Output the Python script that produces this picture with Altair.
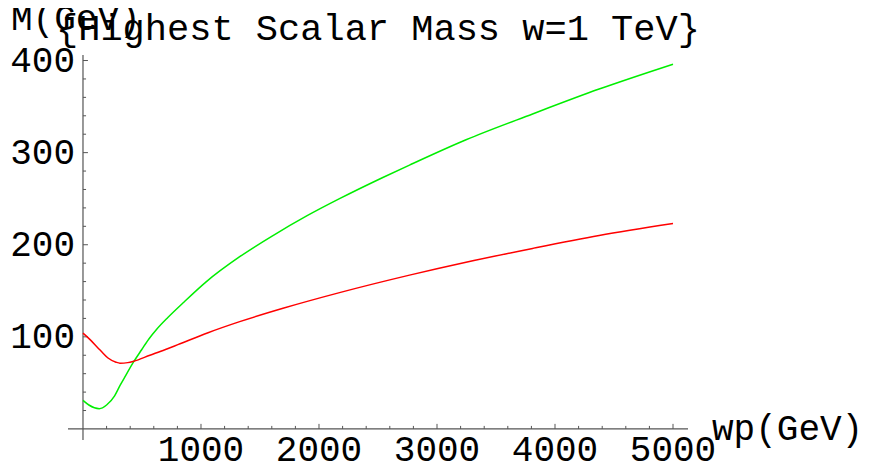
import altair as alt
import pandas as pd

# ---- data ----
green_wp = [0, 50, 138, 200, 268, 313, 353, 430, 497, 560, 623, 719, 849, 1046,
            1328, 1610, 1892, 2174, 2541, 2767, 3246, 3810, 4374, 5000]
green_m = [31, 26, 22, 26, 36, 47, 56, 73, 86, 98, 108, 121, 137, 160,
           187, 210, 231, 250, 273, 286.5, 314, 342, 369, 396]

red_wp = [0, 60, 127, 172, 212, 280, 313, 380, 430, 567, 694, 804, 1060,
          1328, 1695, 2174, 2767, 3246, 3810, 4374, 5000]
red_m = [104, 97, 88, 82, 77, 72.5, 71.4, 72, 73.5, 80, 86, 91.5, 104.5,
         116.5, 131, 148, 167, 181, 196, 210, 223]

x_major = [1000, 2000, 3000, 4000, 5000]
y_major = [100, 200, 300, 400]
x_minor = [v for v in range(200, 5001, 200) if v % 1000 != 0]
y_minor = [v for v in range(20, 401, 20) if v % 100 != 0]

title_text = "{Highest Scalar Mass w=1 TeV}"
y_title = "M(GeV)"
x_title = "wp(GeV)"

X_DOM = [-127, 5127]
Y_DOM = [-12, 406]
FONT = "Liberation Mono"
FS = 36
AX = "#555555"

xs = alt.Scale(domain=X_DOM, nice=False, zero=False)
ys = alt.Scale(domain=Y_DOM, nice=False, zero=False)

curves = pd.concat([
    pd.DataFrame({"wp": green_wp, "M": green_m, "s": "green"}),
    pd.DataFrame({"wp": red_wp, "M": red_m, "s": "red"}),
])

lines = alt.Chart(curves).mark_line(interpolate="monotone", strokeWidth=1.5).encode(
    x=alt.X("wp:Q", scale=xs, axis=None),
    y=alt.Y("M:Q", scale=ys, axis=None),
    color=alt.Color("s:N", scale=alt.Scale(domain=["green", "red"], range=["#00ee00", "#ff0000"]), legend=None),
    detail="s:N",
)

axes_df = pd.DataFrame({
    "x": [X_DOM[0], 0], "x2": [X_DOM[1], 0],
    "y": [0, Y_DOM[0]], "y2": [0, Y_DOM[1]],
})
axis_lines = alt.Chart(axes_df).mark_rule(color=AX, strokeWidth=1.2).encode(
    x=alt.X("x:Q", scale=xs, axis=None), x2="x2:Q",
    y=alt.Y("y:Q", scale=ys, axis=None), y2="y2:Q",
)

xt = pd.DataFrame({
    "x": x_major + x_minor,
    "y2": [5.5] * len(x_major) + [3.3] * len(x_minor),
})
xt["y"] = 0
x_ticks = alt.Chart(xt).mark_rule(color=AX, strokeWidth=1).encode(
    x=alt.X("x:Q", scale=xs, axis=None),
    y=alt.Y("y:Q", scale=ys, axis=None), y2="y2:Q",
)

yt = pd.DataFrame({
    "y": y_major + y_minor,
    "x2": [42] * len(y_major) + [26] * len(y_minor),
})
yt["x"] = 0
y_ticks = alt.Chart(yt).mark_rule(color=AX, strokeWidth=1).encode(
    y=alt.Y("y:Q", scale=ys, axis=None),
    x=alt.X("x:Q", scale=xs, axis=None), x2="x2:Q",
)

xl = pd.DataFrame({"x": x_major, "y": 0, "t": [str(v) for v in x_major]})
x_labels = alt.Chart(xl).mark_text(font=FONT, fontSize=FS, align="center",
                                   baseline="alphabetic", dy=32, color="black").encode(
    x=alt.X("x:Q", scale=xs, axis=None),
    y=alt.Y("y:Q", scale=ys, axis=None),
    text="t:N",
)

yl = pd.DataFrame({"y": y_major, "x": 0, "t": [str(v) for v in y_major]})
y_labels = alt.Chart(yl).mark_text(font=FONT, fontSize=FS, align="right",
                                   baseline="alphabetic", dx=-8, dy=11, color="black").encode(
    x=alt.X("x:Q", scale=xs, axis=None),
    y=alt.Y("y:Q", scale=ys, axis=None),
    text="t:N",
)

def label(txt, px, py, size=FS):
    return alt.Chart(pd.DataFrame({"t": [txt]})).mark_text(
        font=FONT, fontSize=size, align="left", baseline="alphabetic", color="black"
    ).encode(x=alt.value(px), y=alt.value(py), text="t:N")

title = label(title_text, -12, -15, 37)
ytitle = label(y_title, -57, -25)
xtitle = label(x_title, 644, 385)

chart = alt.layer(
    axis_lines, x_ticks, y_ticks, lines, x_labels, y_labels, title, ytitle, xtitle
).properties(
    width=620, height=385,
    autosize=alt.AutoSizeParams(type="none"),
    padding={"left": 60, "top": 47, "right": 173, "bottom": 27},
).configure_view(stroke=None)

chart.save("out.html", embed_options={"renderer": "svg", "actions": False})
